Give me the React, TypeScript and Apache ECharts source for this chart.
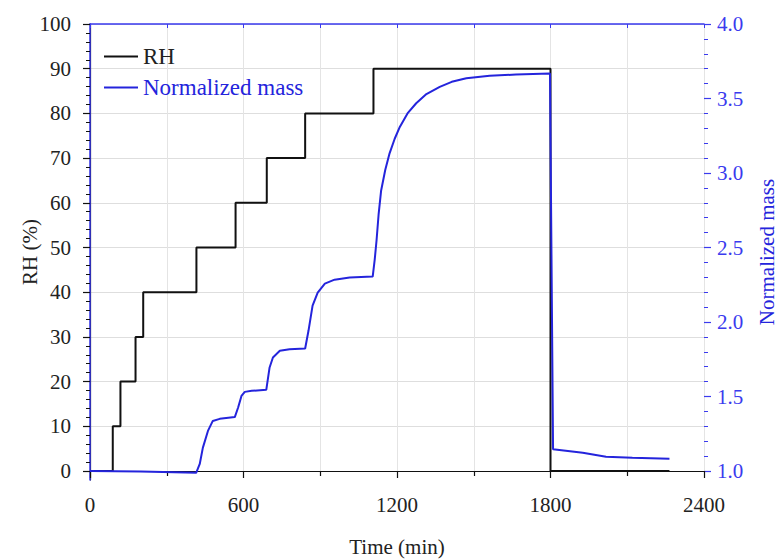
import React, { useEffect, useRef } from "react";
import * as echarts from "echarts";

// RH step change points (min, %)
const rhTime = [0, 89, 119, 178, 208, 416, 569, 691, 841, 1108, 1800, 2265];
const rhValue = [0, 10, 20, 30, 40, 50, 60, 70, 80, 90, 0, 0];

// Normalized mass curve
const massTime = [
  0, 198, 415, 429, 441, 461, 480, 507, 566,
  579, 592, 605, 632, 689,
  702, 715, 742, 780, 841,
  854, 870, 890, 918, 956, 1015, 1105,
  1113, 1120, 1128, 1138, 1154, 1171, 1191, 1211, 1241, 1275, 1315, 1367, 1414, 1471, 1562, 1665, 1798,
  1810, 1926, 2017, 2120, 2265,
];
const massValue = [
  1.0, 0.997, 0.988, 1.047, 1.155, 1.269, 1.336, 1.35, 1.362,
  1.426, 1.504, 1.531, 1.538, 1.545,
  1.695, 1.762, 1.807, 1.817, 1.822,
  1.941, 2.11, 2.197, 2.258, 2.284, 2.298, 2.305,
  2.42, 2.547, 2.72, 2.883, 3.02, 3.132, 3.23, 3.309, 3.4, 3.468, 3.53, 3.578, 3.612, 3.636, 3.652, 3.661, 3.668,
  1.146, 1.123, 1.096, 1.089, 1.083,
];

// tick labels
const xTickLabels = [0, 600, 1200, 1800, 2400];
const leftTickLabels = [0, 10, 20, 30, 40, 50, 60, 70, 80, 90, 100];
const rightTickLabels = ["1.0", "1.5", "2.0", "2.5", "3.0", "3.5", "4.0"];

const BLUE = "#2424dc";
const AXIS_BLUE = "#3a3aee";
const FONT = "Liberation Serif";

// layout (px)
const L = 90, R = 76, TOP = 24, BOT_FRAME = 80, BOT_ZERO = 89;
const W = 780, H = 560;
const frameH = H - TOP - BOT_FRAME;
const zeroH = H - TOP - BOT_ZERO;
const leftMin = 100 - (100 * frameH) / zeroH;
const rightMin = 4 - (3 * frameH) / zeroH;

function txt(text: string, x: number, y: number, align: string, color: string) {
  return {
    type: "text",
    x,
    y,
    z: 100,
    silent: true,
    style: {
      text,
      fontFamily: FONT,
      fontSize: 21,
      fill: color,
      align,
      verticalAlign: "middle",
      textAlign: align,
      textVerticalAlign: "middle",
    },
  };
}

export default function App() {
  const ref = useRef<HTMLDivElement>(null);
  useEffect(() => {
    if (!ref.current) return;
    const chart = echarts.init(ref.current, undefined, { renderer: "svg" });
    chart.setOption({
      animation: false,
      backgroundColor: "#fff",
      textStyle: { fontFamily: FONT, fontSize: 21 },
      legend: {
        orient: "vertical",
        left: 104,
        top: 45,
        padding: 0,
        icon: "rect",
        itemWidth: 34,
        itemHeight: 2,
        itemGap: 8,
        textStyle: { fontFamily: FONT, fontSize: 23 },
        data: [
          { name: "RH", textStyle: { color: "#222" }, itemStyle: { color: "#111" } },
          { name: "Normalized mass", textStyle: { color: BLUE }, itemStyle: { color: BLUE } },
        ],
      },
      grid: [
        { left: L, right: R, top: TOP, bottom: BOT_FRAME, containLabel: false, outerBoundsMode: "none" },
        { left: L, right: R, top: TOP, bottom: BOT_ZERO, containLabel: false, outerBoundsMode: "none" },
      ],
      xAxis: [
        {
          gridIndex: 0,
          type: "value",
          min: 0,
          max: 2400,
          interval: 600,
          name: "Time (min)",
          nameLocation: "middle",
          nameGap: 56,
          nameTextStyle: { fontFamily: FONT, fontSize: 21, color: "#222" },
          axisLine: { show: true, lineStyle: { color: "#111", width: 1.2 } },
          axisTick: { show: true, inside: false, length: 7, lineStyle: { color: "#111", width: 1.2 } },
          minorTick: { show: true, splitNumber: 2, length: 5, lineStyle: { color: "#111", width: 1.2 } },
          axisLabel: { show: false },
          splitLine: { show: false },
        },
        {
          gridIndex: 0,
          type: "value",
          position: "top",
          min: 0,
          max: 2400,
          interval: 300,
          axisLine: { show: true, lineStyle: { color: AXIS_BLUE, width: 1.5 } },
          axisTick: { show: true, inside: true, length: 4, lineStyle: { color: AXIS_BLUE } },
          axisLabel: { show: false },
          splitLine: { show: false },
        },
        {
          gridIndex: 1,
          type: "value",
          min: 0,
          max: 2400,
          interval: 300,
          axisLine: { show: false },
          axisTick: { show: false },
          axisLabel: { show: false },
          splitLine: { show: true, lineStyle: { color: "#e4e4e4", width: 1 } },
        },
      ],
      yAxis: [
        {
          gridIndex: 0,
          type: "value",
          min: leftMin,
          max: 100,
          name: "RH (%)",
          nameLocation: "middle",
          nameGap: 50,
          nameRotate: 90,
          nameTextStyle: { fontFamily: FONT, fontSize: 21, color: "#222" },
          axisLine: { show: true, lineStyle: { color: "#111", width: 1.2 } },
          axisTick: { show: false },
          axisLabel: { show: false },
          splitLine: { show: false },
        },
        {
          gridIndex: 0,
          type: "value",
          position: "right",
          min: rightMin,
          max: 4,
          name: "Normalized mass",
          nameLocation: "middle",
          nameGap: 52,
          nameRotate: 90,
          nameTextStyle: { fontFamily: FONT, fontSize: 21, color: BLUE },
          axisLine: { show: true, lineStyle: { color: AXIS_BLUE, width: 1.5 } },
          axisTick: { show: false },
          axisLabel: { show: false },
          splitLine: { show: false },
        },
        {
          gridIndex: 1,
          type: "value",
          min: 0,
          max: 100,
          interval: 10,
          axisLine: { show: false },
          axisTick: { show: true, length: 7, lineStyle: { color: "#111", width: 1.2 } },
          minorTick: { show: true, splitNumber: 5, length: 4, lineStyle: { color: "#111", width: 1 } },
          axisLabel: { show: false },
          splitLine: { show: true, lineStyle: { color: "#dedede", width: 1 } },
        },
        {
          gridIndex: 1,
          type: "value",
          position: "right",
          min: 1,
          max: 4,
          interval: 0.5,
          axisLine: { show: false },
          axisTick: { show: true, length: 7, lineStyle: { color: AXIS_BLUE, width: 1.2 } },
          minorTick: { show: true, splitNumber: 5, length: 4, lineStyle: { color: AXIS_BLUE, width: 1 } },
          axisLabel: { show: false },
          splitLine: { show: false },
        },
      ],
      series: [
        {
          name: "RH",
          type: "line",
          xAxisIndex: 0,
          yAxisIndex: 0,
          step: "end",
          symbol: "none",
          lineStyle: { color: "#111", width: 2 },
          itemStyle: { color: "#111" },
          data: rhTime.map((t, i) => [t, rhValue[i]]),
        },
        {
          name: "Normalized mass",
          type: "line",
          xAxisIndex: 0,
          yAxisIndex: 1,
          symbol: "none",
          lineStyle: { color: BLUE, width: 2 },
          itemStyle: { color: BLUE },
          data: massTime.map((t, i) => [t, massValue[i]]),
        },
      ],
    });

    // tick labels as text placed through the axes' own scales
    const graphics: any[] = [];
    const xAxisY = H - BOT_FRAME;
    xTickLabels.forEach((v) => {
      const px = chart.convertToPixel({ xAxisIndex: 0 }, v) as number;
      graphics.push(txt(String(v), px, xAxisY + 25, "center", "#222"));
    });
    leftTickLabels.forEach((v) => {
      const py = chart.convertToPixel({ yAxisIndex: 2 }, v) as number;
      graphics.push(txt(String(v), L - 19, py, "right", "#222"));
    });
    rightTickLabels.forEach((s) => {
      const py = chart.convertToPixel({ yAxisIndex: 3 }, parseFloat(s)) as number;
      graphics.push(txt(s, W - R + 13, py, "left", AXIS_BLUE));
    });
    chart.setOption({ graphic: graphics });

    return () => chart.dispose();
  }, []);
  return <div ref={ref} style={{ width: W, height: H, position: "absolute", left: 0, top: 0 }} />;
}
